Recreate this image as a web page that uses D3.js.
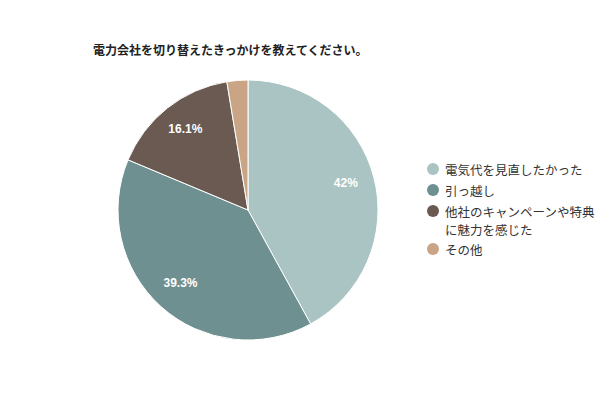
<!DOCTYPE html>
<html>
<head>
<meta charset="utf-8">
<script src="https://cdn.jsdelivr.net/npm/d3@7"></script>
<style>
  body { margin: 0; background: #fff; }
  text { font-family: "Noto Sans CJK JP", "Noto Sans", sans-serif; }
  .lbl { font-family: "Liberation Sans", Arial, sans-serif; }
</style>
</head>
<body>
<svg id="chart" width="600" height="400"></svg>
<script>
var title = "電力会社を切り替えたきっかけを教えてください。";
var categories = ["電気代を見直したかった", "引っ越し", ["他社のキャンペーンや特典", "に魅力を感じた"], "その他"];
var values = [42, 39.3, 16.1, 2.6];
var labels = ["42%", "39.3%", "16.1%", ""];
var colors = ["#a9c4c2", "#6f9090", "#6a5a52", "#c9a585"];

var svg = d3.select("#chart");
var cx = 248, cy = 210, radius = 130;

svg.append("text")
	.attr("x", 93).attr("y", 55)
	.attr("font-size", 12).attr("font-weight", "bold")
	.attr("fill", "#222")
	.text(title);

var pie = d3.pie().sort(null).value(function(d) { return d; });
var arc = d3.arc().innerRadius(0).outerRadius(radius);
var labelArc = d3.arc().innerRadius(101).outerRadius(101);

var g = svg.append("g").attr("transform", "translate(" + cx + "," + cy + ")");
var arcs = pie(values);

g.selectAll("path")
	.data(arcs)
	.enter()
	.append("path")
	.attr("d", arc)
	.attr("fill", function(d, i) { return colors[i]; })
	.attr("stroke", "#fff")
	.attr("stroke-width", 1);

g.selectAll(".lbl")
	.data(arcs)
	.enter()
	.append("text")
	.attr("class", "lbl")
	.attr("transform", function(d) { var c = labelArc.centroid(d); return "translate(" + c[0] + "," + (c[1] - 2) + ")"; })
	.attr("text-anchor", "middle")
	.attr("dominant-baseline", "central")
	.attr("font-size", 12).attr("font-weight", "bold")
	.attr("fill", "#fff")
	.text(function(d, i) { return labels[i]; });

// legend
var rowY = [169, 190, 211, 249];
var legend = svg.append("g");
categories.forEach(function(c, i) {
	legend.append("circle")
		.attr("cx", 433).attr("cy", rowY[i]).attr("r", 6)
		.attr("fill", colors[i]);
	var lines = Array.isArray(c) ? c : [c];
	var t = legend.append("text")
		.attr("x", 445).attr("y", rowY[i])
		.attr("dominant-baseline", "central")
		.attr("font-size", 12.5).attr("fill", "#333");
	lines.forEach(function(l, j) {
		t.append("tspan").attr("x", 445).attr("dy", j ? 18 : 0).text(l);
	});
});
</script>
</body>
</html>
